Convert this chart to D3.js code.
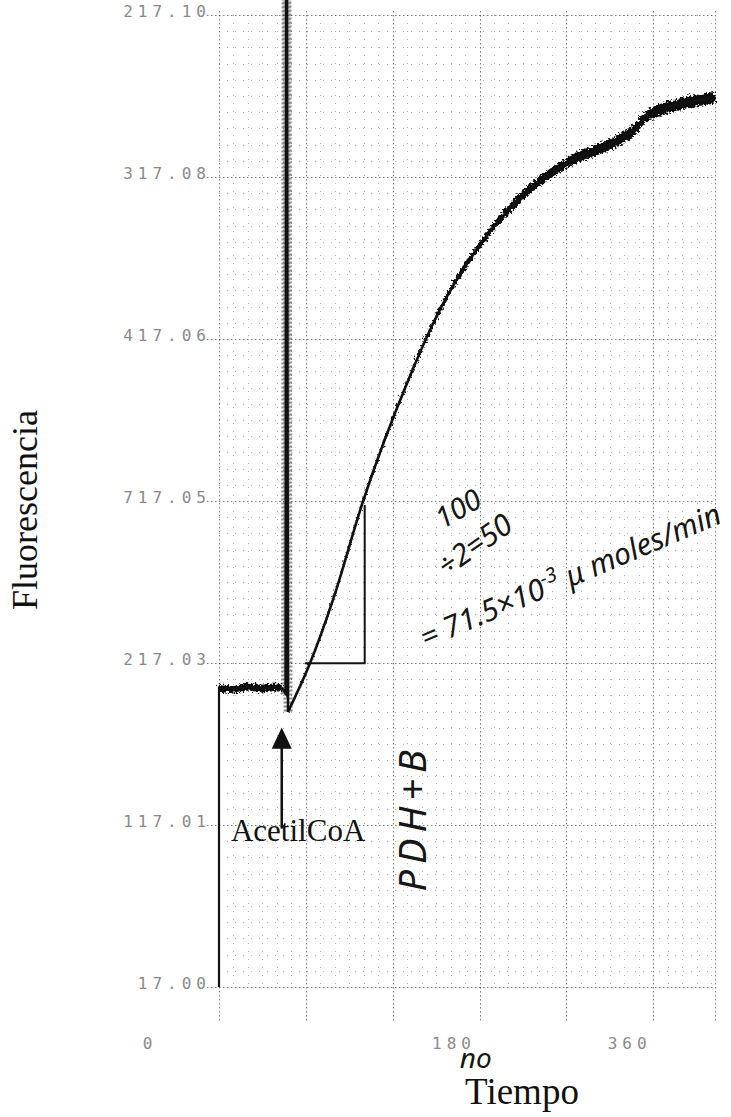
<!DOCTYPE html>
<html>
<head>
<meta charset="utf-8">
<script src="https://cdn.jsdelivr.net/npm/d3@7"></script>
<style>
body { margin: 0; background: #fff; }
svg { display: block; }
.tick-label { font-family: "DejaVu Sans Mono", monospace; font-size: 16px; fill: #8a8a8a; letter-spacing: 5px; }
.title { font-family: "Liberation Serif", "Times New Roman", serif; fill: #111; }
.hand { font-family: "Noto Sans", "DejaVu Sans", sans-serif; font-style: italic; font-weight: 400; fill: #161616; }
</style>
</head>
<body>
<div id="chart"></div>
<script>
// PLOT SIZE
let width = 731,
    height = 1117;

// recorder trace (time, fluorescence, noise half width)
const traceTime  = [-90, -90, -75, -60, -45, -35, -25];
const traceFluor = [217.0000, 217.0308, 217.0306, 217.0309, 217.0307, 217.0308, 217.0308];
const traceNoise = [0, 0.0004, 0.0004, 0.0004, 0.0004, 0.0004, 0.0004];

// injection spike
const spikeTime  = [-25, -21, -20.5, -19.5, -18.5];
const spikeFluor = [217.0308, 217.0302, 217.1016, 217.1016, 217.0283];

// rise after AcetilCoA
const riseTime  = [-18.5, 4.3, 28, 59, 106, 139, 180, 220, 271, 329, 341, 351, 391, 424];
const riseFluor = [217.0283, 217.0333, 217.0398, 217.0499, 217.0624, 217.0697, 217.0763,
                   217.0810, 217.0848, 217.0874, 217.0882, 217.0894, 217.0909, 217.0915];
const riseNoise = [0.00012, 0.00012, 0.00012, 0.00015, 0.00025, 0.00035, 0.0004,
                   0.0005, 0.00055, 0.0006, 0.0006, 0.0006, 0.0006, 0.0006];

// tick labels as printed (scan is garbled)
const yTickValues = [217.1, 217.0833, 217.0667, 217.05, 217.0333, 217.0167, 217.0];
const yTickLabels = ['217.10', '317.08', '417.06', '717.05', '217.03', '117.01', '17.00'];
const xTickLabels = ['0', '180', '360'];
const xTickLabelAt = [-164, 151, 333];

// slope triangle drawn by hand
const triTime  = [-1, 61, 61];
const triFluor = [217.0333, 217.0333, 217.0496];

const injectTime = -25;

let svg = d3.select('#chart')
    .append('svg')
    .attr('width', width)
    .attr('height', height);

// rough edge for the noisy pen trace
let rough = svg.append('defs')
    .append('filter')
    .attr('id', 'rough')
    .attr('x', '-5%').attr('y', '-5%')
    .attr('width', '110%').attr('height', '110%');
rough.append('feTurbulence')
    .attr('type', 'fractalNoise')
    .attr('baseFrequency', '0.45')
    .attr('numOctaves', 2)
    .attr('seed', 4)
    .attr('result', 'noise');
rough.append('feDisplacementMap')
    .attr('in', 'SourceGraphic')
    .attr('in2', 'noise')
    .attr('scale', 8)
    .attr('xChannelSelector', 'R')
    .attr('yChannelSelector', 'G');

// Scales
let x = d3.scaleLinear().domain([-90, 424]).range([219, 715]);
let y = d3.scaleLinear().domain([217.0, 217.1]).range([987, 15]);

// ---- grid ----
let grid = svg.append('g').attr('class', 'grid');

let vMinor = d3.range(-90, 424, 15).filter(t => (t + 90) % 90 !== 0);
let vMajor = d3.range(-90, 424, 90).concat([424]);
let hAll = d3.range(0, 61);

grid.selectAll('.v-minor')
    .data(vMinor)
    .enter()
    .append('line')
    .attr('x1', d => Math.round(x(d)) + 0.5)
    .attr('x2', d => Math.round(x(d)) + 0.5)
    .attr('y1', y(217.1))
    .attr('y2', y(217.0))
    .attr('stroke', '#444')
    .attr('stroke-opacity', 0.4)
    .attr('stroke-dasharray', '1,7');

grid.selectAll('.h-minor')
    .data(hAll.filter(i => i % 10 !== 0))
    .enter()
    .append('line')
    .attr('x1', x(-90))
    .attr('x2', x(424))
    .attr('y1', d => Math.round(y(217 + d / 600)) + 0.5)
    .attr('y2', d => Math.round(y(217 + d / 600)) + 0.5)
    .attr('stroke', '#444')
    .attr('stroke-opacity', 0.4)
    .attr('stroke-dasharray', '1,7');

grid.selectAll('.v-major')
    .data(vMajor)
    .enter()
    .append('line')
    .attr('x1', d => Math.round(x(d)) + 0.5)
    .attr('x2', d => Math.round(x(d)) + 0.5)
    .attr('y1', y(217.1) - 4)
    .attr('y2', y(217.0) + 36)
    .attr('stroke', '#222')
    .attr('stroke-opacity', 0.6)
    .attr('stroke-dasharray', '1.5,2.5');

grid.selectAll('.h-major')
    .data(yTickValues)
    .enter()
    .append('line')
    .attr('x1', 207)
    .attr('x2', x(424))
    .attr('y1', d => Math.round(y(d)) + 0.5)
    .attr('y2', d => Math.round(y(d)) + 0.5)
    .attr('stroke', '#222')
    .attr('stroke-opacity', 0.6)
    .attr('stroke-dasharray', '1.5,2.5');

// ---- tick labels ----
svg.selectAll('.y-label')
    .data(yTickValues)
    .enter()
    .append('text')
    .attr('class', 'tick-label')
    .attr('x', 211)
    .attr('y', d => y(d) + 2)
    .attr('text-anchor', 'end')
    .text((d, i) => yTickLabels[i]);

svg.selectAll('.x-label')
    .data(xTickLabels)
    .enter()
    .append('text')
    .attr('class', 'tick-label')
    .attr('x', (d, i) => x(xTickLabelAt[i]) + 2.5)
    .attr('y', 1049)
    .attr('text-anchor', 'middle')
    .text(d => d);

// ---- trace ----
let baseData = traceTime.map((t, i) => ({t: t, v: traceFluor[i], n: traceNoise[i]}));
let spikeData = spikeTime.map((t, i) => ({t: t, v: spikeFluor[i]}));
let riseData = riseTime.map((t, i) => ({t: t, v: riseFluor[i], n: riseNoise[i]}));

let band = d3.area()
    .x(d => x(d.t))
    .y0(d => y(d.v - d.n))
    .y1(d => y(d.v + d.n))
    .curve(d3.curveMonotoneX);

let line = d3.line()
    .x(d => x(d.t))
    .y(d => y(d.v));

svg.append('path')
    .datum(baseData.slice(1))
    .attr('d', band)
    .attr('fill', '#111')
    .attr('filter', 'url(#rough)');

svg.append('path')
    .datum(baseData)
    .attr('d', line)
    .attr('fill', 'none')
    .attr('stroke', '#111')
    .attr('stroke-width', 2.2);

// spike: speckle then the stroke
svg.append('path')
    .datum(spikeData)
    .attr('d', line)
    .attr('fill', 'none')
    .attr('stroke', '#222')
    .attr('stroke-opacity', 0.5)
    .attr('stroke-dasharray', '2,2')
    .attr('stroke-width', 9);

svg.append('path')
    .datum(spikeData)
    .attr('d', line)
    .attr('fill', 'none')
    .attr('stroke', '#111')
    .attr('stroke-width', 2.5);

svg.append('path')
    .datum(riseData)
    .attr('d', band)
    .attr('fill', '#111')
    .attr('filter', 'url(#rough)');

svg.append('path')
    .datum(riseData)
    .attr('d', line.curve(d3.curveMonotoneX))
    .attr('fill', 'none')
    .attr('stroke', '#111')
    .attr('stroke-width', 2.6);

// ---- slope triangle ----
svg.append('path')
    .datum(triTime.map((t, i) => ({t: t, v: triFluor[i]})))
    .attr('d', d3.line().x(d => x(d.t)).y(d => y(d.v)))
    .attr('fill', 'none')
    .attr('stroke', '#111')
    .attr('stroke-width', 2);

// ---- AcetilCoA arrow ----
let ax = x(injectTime);
svg.append('line')
    .attr('x1', ax)
    .attr('x2', ax)
    .attr('y1', y(217.0163))
    .attr('y2', y(217.0250))
    .attr('stroke', '#111')
    .attr('stroke-width', 2.5);

svg.append('path')
    .attr('d', d3.line()([[ax, y(217.0267)], [ax - 10, y(217.0245)], [ax + 10, y(217.0245)]]))
    .attr('fill', '#111');

svg.append('text')
    .attr('class', 'title')
    .attr('x', x(-8))
    .attr('y', y(217.0150))
    .attr('text-anchor', 'middle')
    .style('font-size', '31px')
    .text('AcetilCoA');

// ---- axis titles ----
svg.append('text')
    .attr('class', 'title')
    .attr('transform', 'translate(37,510) rotate(-90)')
    .attr('text-anchor', 'middle')
    .style('font-size', '36px')
    .text('Fluorescencia');

svg.append('text')
    .attr('class', 'title')
    .attr('x', 522)
    .attr('y', 1104)
    .attr('text-anchor', 'middle')
    .style('font-size', '37px')
    .text('Tiempo');

// ---- handwritten notes ----
function note(t, v, angle, size, anchor) {
    return svg.append('text')
        .attr('class', 'hand')
        .attr('transform', 'translate(' + x(t) + ',' + y(v) + ') rotate(' + angle + ')')
        .attr('text-anchor', anchor)
        .style('font-size', size + 'px');
}

note(163, 217.0483, -30, 29, 'middle').text('100');
note(181, 217.0446, -35, 30, 'middle').text('÷2=50');

let rate = note(124, 217.0348, -23, 30, 'start');
rate.append('tspan').text('= 71.5×10');
rate.append('tspan').attr('dy', -12).style('font-size', '20px').text('−3');
rate.append('tspan').attr('dy', 12).text(' μ moles/min');

note(125, 217.0174, -90, 38, 'middle').style('letter-spacing', '6px').text('PDH+B');
note(176, 216.9917, 0, 28, 'middle').text('no');

</script>
</body>
</html>
